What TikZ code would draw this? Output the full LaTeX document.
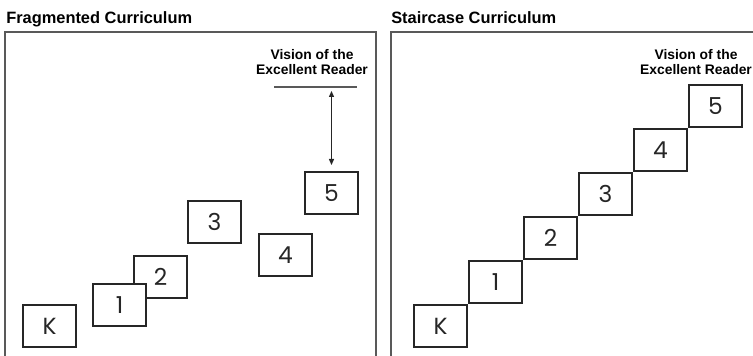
\documentclass[tikz,border=0pt]{standalone}
\usepackage{fontspec}
\setmainfont{Liberation Sans}
\newfontfamily\stepfont{Poppins}
\usetikzlibrary{positioning,arrows.meta}
\tikzset{
  frame/.style={draw=black!65, line width=0.8pt},
  stepbox/.style={draw=black!85, fill=white, line width=1.5pt, minimum width=39.75pt, minimum height=31.5pt, inner sep=0pt, font=\stepfont\fontsize{17.5}{17.5}\selectfont, text=black!85},
  title/.style={anchor=base west, inner sep=0pt, font=\bfseries\fontsize{12.3}{12.3}\selectfont},
  vision/.style={align=center, anchor=north, inner sep=0pt, font=\bfseries\fontsize{10.4}{11}\selectfont},
}
\begin{document}
\begin{tikzpicture}[x=0.75pt,y=0.75pt,yscale=-1,xscale=1]
\useasboundingbox (0,0) rectangle (753,356);

%Titles
\node[title] (tfrag) at (6,24) {Fragmented Curriculum};
\node[title] (tstair) at (391,24) {Staircase Curriculum};

%Frames
\draw[frame] (5,357) -- (5,32) -- (376,32) -- (376,357);
\draw[frame] (391,357) -- (391,32) -- (760,32);

%Fragmented steps
\node[stepbox] (fK) at (49.5,326) {K};
\node[stepbox] (f2) at (160.5,277) {2};
\node[stepbox] (f1) at (119.5,305) {1};
\node[stepbox] (f3) at (214.5,222) {3};
\node[stepbox] (f4) at (285.5,255) {4};
\node[stepbox] (f5) at (331.5,193) {5};

%Vision, fragmented
\node[vision] (fvis) at (312,49.5) {Vision of the\\Excellent Reader};
\coordinate (fbarL) at (274,87);
\coordinate (fbarR) at (357,87);
\draw[frame] (fbarL) -- (fbarR);
\draw[black!85, line width=0.8pt, {Triangle[length=4.5pt,width=3.8pt]}-{Triangle[length=4.5pt,width=3.8pt]}, shorten <=3pt, shorten >=4.5pt] (f5.north |- fbarL) -- (f5.north);

%Staircase steps
\node[stepbox] (sK) at (440.5,326) {K};
\node[stepbox, anchor=south west] (s1) at (sK.north east) {1};
\node[stepbox, anchor=south west] (s2) at (s1.north east) {2};
\node[stepbox, anchor=south west] (s3) at (s2.north east) {3};
\node[stepbox, anchor=south west] (s4) at (s3.north east) {4};
\node[stepbox, anchor=south west] (s5) at (s4.north east) {5};

%Vision, staircase
\node[vision] (svis) at (696,49.5) {Vision of the\\Excellent Reader};

\end{tikzpicture}
\end{document}
